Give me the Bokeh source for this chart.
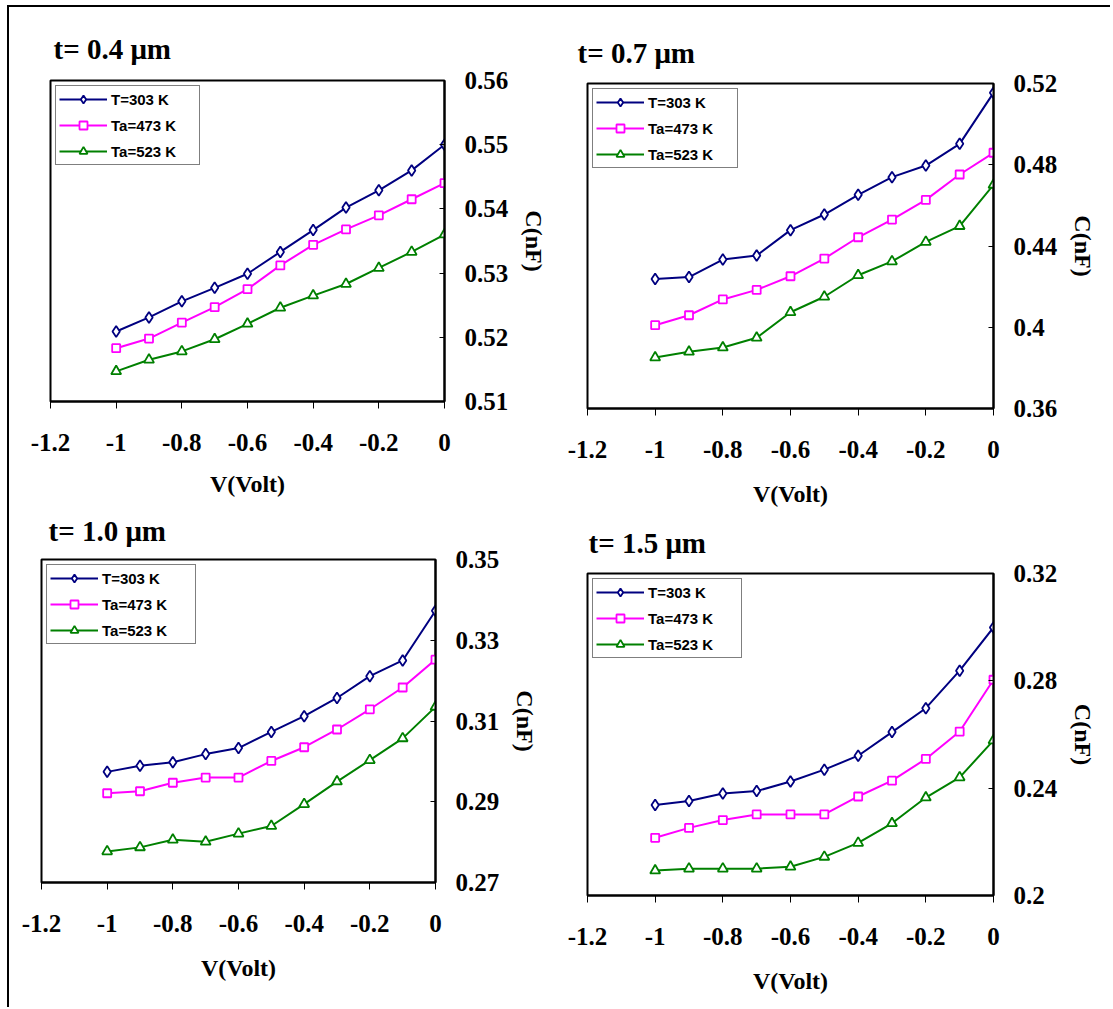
from bokeh.plotting import figure
from bokeh.models import Range1d, FixedTicker, CustomJSTickFormatter, Div
from bokeh.layouts import row, column
from bokeh.embed import file_html
from bokeh.resources import INLINE

# ---------------- data ----------------
V = [-1.0, -0.9, -0.8, -0.7, -0.6, -0.5, -0.4, -0.3, -0.2, -0.1, 0.0]
series_labels = ["T=303 K", "Ta=473 K", "Ta=523 K"]
x_ticks = [-1.2, -1.0, -0.8, -0.6, -0.4, -0.2, 0.0]

# t = 0.4 um
c04_T303 = [0.5209, 0.5231, 0.5256, 0.5277, 0.5299, 0.5333, 0.5367, 0.5402, 0.5429, 0.5460, 0.5500]
c04_T473 = [0.5183, 0.5198, 0.5223, 0.5247, 0.5275, 0.5312, 0.5344, 0.5368, 0.5390, 0.5415, 0.5440]
c04_T523 = [0.5147, 0.5165, 0.5178, 0.5197, 0.5221, 0.5246, 0.5265, 0.5283, 0.5308, 0.5333, 0.5360]
y_ticks_04 = [0.51, 0.52, 0.53, 0.54, 0.55, 0.56]

# t = 0.7 um
c07_T303 = [0.4237, 0.4247, 0.4333, 0.4353, 0.4478, 0.4555, 0.4652, 0.4739, 0.4796, 0.4903, 0.5154]
c07_T473 = [0.4010, 0.4059, 0.4137, 0.4184, 0.4251, 0.4338, 0.4443, 0.4530, 0.4627, 0.4752, 0.4859]
c07_T523 = [0.3851, 0.3879, 0.3900, 0.3948, 0.4074, 0.4150, 0.4256, 0.4324, 0.4420, 0.4498, 0.4701]
y_ticks_07 = [0.36, 0.40, 0.44, 0.48, 0.52]

# t = 1.0 um
c10_T303 = [0.2974, 0.2989, 0.2998, 0.3018, 0.3033, 0.3073, 0.3112, 0.3157, 0.3211, 0.3250, 0.3373]
c10_T473 = [0.2921, 0.2926, 0.2947, 0.2960, 0.2960, 0.3001, 0.3035, 0.3079, 0.3129, 0.3183, 0.3252]
c10_T523 = [0.2777, 0.2787, 0.2806, 0.2801, 0.2821, 0.2840, 0.2894, 0.2950, 0.3003, 0.3057, 0.3135]
y_ticks_10 = [0.27, 0.29, 0.31, 0.33, 0.35]

# t = 1.5 um
c15_T303 = [0.2337, 0.2352, 0.2380, 0.2389, 0.2425, 0.2469, 0.2521, 0.2609, 0.2698, 0.2838, 0.2999]
c15_T473 = [0.2215, 0.2252, 0.2281, 0.2302, 0.2302, 0.2302, 0.2369, 0.2428, 0.2509, 0.2611, 0.2804]
c15_T523 = [0.2093, 0.2100, 0.2100, 0.2100, 0.2107, 0.2144, 0.2196, 0.2269, 0.2365, 0.2440, 0.2578]
y_ticks_15 = [0.20, 0.24, 0.28, 0.32]

panel_titles = ["t= 0.4 μm", "t= 0.7 μm", "t= 1.0 μm", "t= 1.5 μm"]

# ---------------- styling ----------------
SERIF = "Liberation Serif"
SANS = "Liberation Sans"
COLORS = ["#000080", "#FF00FF", "#008000"]
MARKERS = ["diamond", "square", "triangle"]
SIZES = [11, 8, 10]


def make_panel(title, series, yticks, width, height, left, right, top, bottom,
               title_offset, title_standoff, legend_label_width, xlabel_standoff=20):
    p = figure(width=width, height=height, output_backend="svg", toolbar_location=None,
               x_range=Range1d(-1.2, 0.0), y_range=Range1d(yticks[0], yticks[-1]),
               y_axis_location="right",
               min_border_left=left, min_border_right=right,
               min_border_top=top, min_border_bottom=bottom)
    p.title.text = title
    p.title.text_font = SERIF
    p.title.text_font_style = "bold"
    p.title.text_font_size = "29px"
    p.title.text_color = "black"
    p.title.align = "left"
    p.title.offset = title_offset
    p.title.standoff = title_standoff

    p.xgrid.visible = False
    p.ygrid.visible = False
    p.outline_line_color = "black"
    p.outline_line_width = 2
    p.background_fill_color = "white"
    p.border_fill_color = "white"

    fmt = "return String(Math.round(tick*100)/100);"
    xa = p.xaxis[0]
    xa.ticker = FixedTicker(ticks=x_ticks)
    xa.formatter = CustomJSTickFormatter(code=fmt)
    xa.axis_label = "V(Volt)"
    xa.minor_tick_line_color = None
    xa.major_tick_in = 0
    xa.major_tick_out = 7
    xa.major_label_standoff = 25
    xa.axis_label_standoff = xlabel_standoff

    ya = p.yaxis[0]
    ya.ticker = FixedTicker(ticks=yticks)
    ya.formatter = CustomJSTickFormatter(code=fmt)
    ya.axis_label = "C(nF)"
    ya.minor_tick_line_color = None
    ya.major_tick_in = 5
    ya.major_tick_out = 0
    ya.major_label_standoff = 20
    ya.axis_label_standoff = 10

    for ax in (xa, ya):
        ax.axis_line_width = 2
        ax.axis_line_color = "black"
        ax.major_tick_line_color = "black"
        ax.major_tick_line_width = 1
        ax.major_label_text_font = SERIF
        ax.major_label_text_font_style = "bold"
        ax.major_label_text_font_size = "25px"
        ax.major_label_text_color = "black"
        ax.axis_label_text_font = SERIF
        ax.axis_label_text_font_style = "bold"
        ax.axis_label_text_font_size = "24px"
        ax.axis_label_text_color = "black"

    for ys, lab, col, mk, sz in zip(series, series_labels, COLORS, MARKERS, SIZES):
        p.line(V, ys, line_color=col, line_width=2, legend_label=lab)
        p.scatter(V, ys, marker=mk, size=sz, line_color=col, line_width=1.8,
                  fill_color="white", legend_label=lab)

    lg = p.legend[0]
    lg.location = "top_left"
    lg.margin = 5
    lg.padding = 3
    lg.spacing = 6
    lg.glyph_width = 48
    lg.glyph_height = 20
    lg.label_height = 20
    lg.label_width = legend_label_width
    lg.label_standoff = 4
    lg.label_text_font = SANS
    lg.label_text_font_style = "bold"
    lg.label_text_font_size = "15px"
    lg.label_text_color = "black"
    lg.border_line_color = "black"
    lg.border_line_width = 1
    lg.background_fill_color = "white"
    lg.background_fill_alpha = 1.0
    return p


# left column: figures 542 wide (left border 32, frame 394, right border 116)
p1 = make_panel(panel_titles[0], [c04_T303, c04_T473, c04_T523], y_ticks_04,
                542, 492, 32, 116, 73, 98, 3, 32, 85, xlabel_standoff=17)
p3 = make_panel(panel_titles[2], [c10_T303, c10_T473, c10_T523], y_ticks_10,
                542, 508, 32, 116, 58, 125, 7, 26, 90)
# right column: figures 548 wide (left border 27, frame 406, right border 115)
p2 = make_panel(panel_titles[1], [c07_T303, c07_T473, c07_T523], y_ticks_07,
                548, 502, 27, 115, 76, 101, -10, 30, 86)
p4 = make_panel(panel_titles[3], [c15_T303, c15_T473, c15_T523], y_ticks_15,
                548, 498, 27, 115, 62, 112, 1, 30, 90)


def blank(w, h, color="white"):
    return Div(text="", width=w, height=h, margin=0,
               styles={"background-color": color})


left_col = column(row(blank(9, 492), p1, spacing=0), p3, spacing=0)
right_col = column(p2, p4, spacing=0)

layout = column(
    blank(1110, 5),
    row(blank(7, 2), blank(1103, 2, "black"), spacing=0),
    row(blank(7, 1000), blank(2, 1000, "black"), left_col, right_col, spacing=0),
    spacing=0,
)

open("out.html", "w").write(file_html(layout, INLINE))
